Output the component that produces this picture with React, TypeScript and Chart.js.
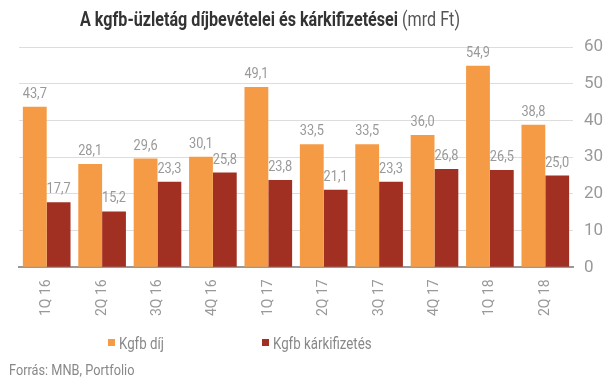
import React, { useEffect, useRef } from "react";
import { Chart, registerables } from "chart.js";

Chart.register(...registerables);

const categories = ["1Q 16", "2Q 16", "3Q 16", "4Q 16", "1Q 17", "2Q 17", "3Q 17", "4Q 17", "1Q 18", "2Q 18"];
const premiums = [43.7, 28.1, 29.6, 30.1, 49.1, 33.5, 33.5, 36.0, 54.9, 38.8];
const claims = [17.7, 15.2, 23.3, 25.8, 23.8, 21.1, 23.3, 26.8, 26.5, 25.0];
const seriesNames = ["Kgfb díj", "Kgfb kárkifizetés"];
const colors = ["#F59B45", "#A13022"];
const titleBold = "A kgfb-üzletág díjbevételei és kárkifizetései";
const titleNormal = " (mrd Ft)";
const sourceText = "Forrás: MNB, Portfolio";

const FONT = "Roboto, 'Noto Sans', sans-serif";

function drawScaled(ctx: CanvasRenderingContext2D, text: string, x: number, y: number, font: string, sx: number, align: "left" | "center" | "right") {
  ctx.save();
  ctx.font = font;
  const w = ctx.measureText(text).width * sx;
  let left = x;
  if (align === "center") left = x - w / 2;
  if (align === "right") left = x - w;
  ctx.translate(left, y);
  ctx.scale(sx, 1);
  ctx.textAlign = "left";
  ctx.fillText(text, 0, 0);
  ctx.restore();
  return w;
}

const overlayPlugin = {
  id: "overlay",
  afterDatasetsDraw(chart: any) {
    const ctx: CanvasRenderingContext2D = chart.ctx;
    ctx.save();
    ctx.textBaseline = "alphabetic";
    ctx.fillStyle = "#999999";
    chart.data.datasets.forEach((ds: any, di: number) => {
      const meta = chart.getDatasetMeta(di);
      meta.data.forEach((bar: any, i: number) => {
        const v = ds.data[i] as number;
        const txt = v.toFixed(1).replace(".", ",");
        drawScaled(ctx, txt, bar.x, bar.y - 9, `400 15px ${FONT}`, 0.85, "center");
      });
    });
    ctx.restore();
  },
  afterDraw(chart: any) {
    const ctx: CanvasRenderingContext2D = chart.ctx;
    ctx.save();
    ctx.textBaseline = "alphabetic";
    const boldFont = `700 20px ${FONT}`;
    const normFont = `400 20px ${FONT}`;
    ctx.font = boldFont;
    const wb = ctx.measureText(titleBold).width;
    ctx.font = normFont;
    const wn = ctx.measureText(titleNormal).width;
    const target = 380;
    const sx = target / (wb + wn);
    const left = 270 - target / 2;
    ctx.fillStyle = "#333333";
    drawScaled(ctx, titleBold, left, 26, boldFont, sx, "left");
    ctx.fillStyle = "#555555";
    drawScaled(ctx, titleNormal, left + wb * sx, 26, normFont, sx, "left");
    const legendX = [108, 262];
    seriesNames.forEach((name, i) => {
      ctx.fillStyle = colors[i];
      ctx.fillRect(legendX[i], 339, 7, 7);
      ctx.fillStyle = "#888888";
      drawScaled(ctx, name, legendX[i] + 11, 349, `400 16px ${FONT}`, 0.83, "left");
    });
    ctx.fillStyle = "#888888";
    drawScaled(ctx, sourceText, 9, 375, `400 15px ${FONT}`, 0.85, "left");
    ctx.restore();
  },
};

export default function App() {
  const ref = useRef<HTMLCanvasElement | null>(null);
  useEffect(() => {
    if (!ref.current) return;
    const chart = new Chart(ref.current, {
      type: "bar",
      data: {
        labels: categories,
        datasets: [
          { label: seriesNames[0], data: premiums, backgroundColor: colors[0], categoryPercentage: 0.86, barPercentage: 1.0 },
          { label: seriesNames[1], data: claims, backgroundColor: colors[1], categoryPercentage: 0.86, barPercentage: 1.0 },
        ],
      },
      options: {
        animation: false,
        responsive: false,
        maintainAspectRatio: false,
        layout: { padding: { left: 19, right: 0, top: 47, bottom: 51 } },
        plugins: {
          legend: { display: false },
          title: { display: false },
          tooltip: { enabled: false },
        },
        scales: {
          x: {
            grid: { display: false, drawTicks: false },
            border: { display: true, color: "#999999", width: 2 },
            ticks: {
              color: "#999999",
              font: { family: FONT, size: 14 },
              minRotation: 90,
              maxRotation: 90,
              padding: 12,
            },
          },
          y: {
            position: "right",
            min: 0,
            max: 60,
            afterFit: (axis: any) => { axis.width = 32; },
            grid: { color: "#dddddd", drawTicks: false },
            border: { display: false },
            ticks: {
              stepSize: 10,
              color: "#999999",
              font: { family: FONT, size: 17 },
              padding: 11,
            },
          },
        },
      },
      plugins: [overlayPlugin],
    });
    return () => chart.destroy();
  }, []);
  return (
    <div style={{ position: "fixed", left: 0, top: 0, width: 605, height: 379, background: "#fff" }}>
      <canvas ref={ref} width={605} height={379} style={{ width: 605, height: 379, display: "block" }} />
    </div>
  );
}
